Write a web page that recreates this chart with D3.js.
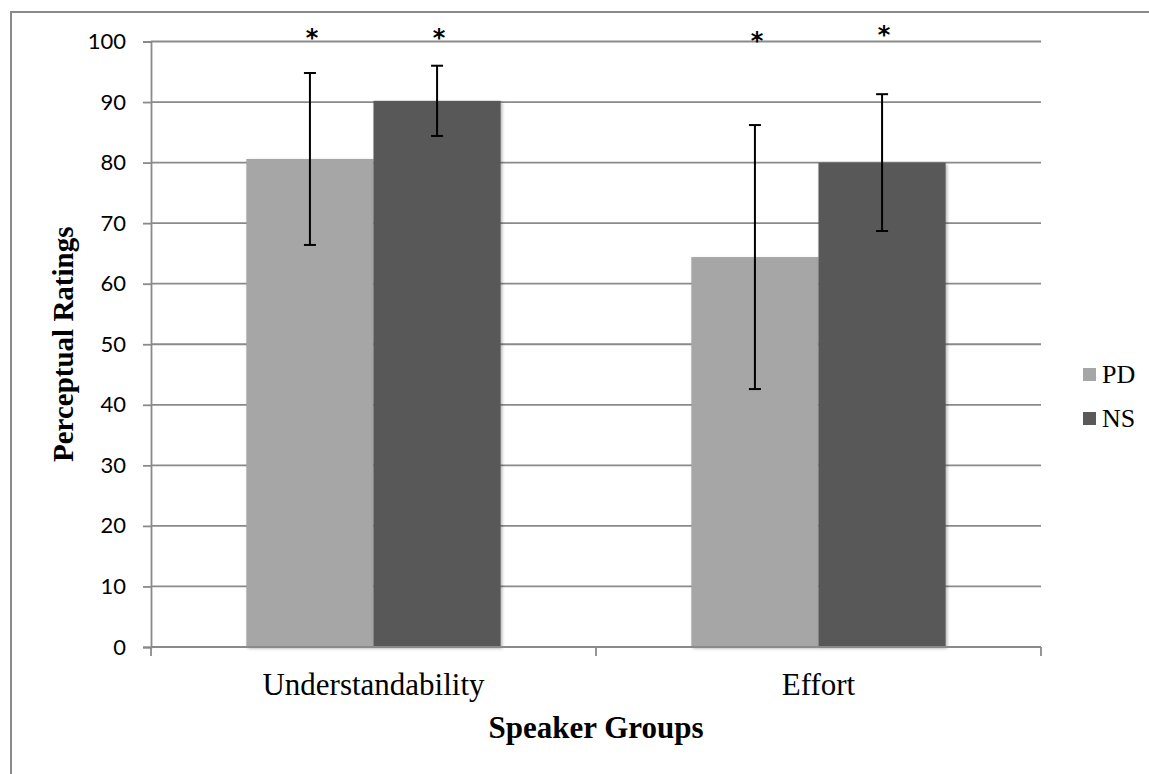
<!DOCTYPE html>
<html>
<head>
<meta charset="utf-8">
<script src="https://cdn.jsdelivr.net/npm/d3@7"></script>
<style>
  html, body { margin: 0; padding: 0; background: #fff; }
  svg { display: block; }
</style>
</head>
<body>
<div id="chart"></div>
<script>
// Perceptual ratings by speaker group (PD vs NS), mean ± SD
const categories = ['Understandability', 'Effort'];
const seriesNames = ['PD', 'NS'];
const pdMeans = [80.6, 64.4];
const nsMeans = [90.2, 80.0];
const pdErr = [14.2, 21.8];
const nsErr = [5.8, 11.3];
// significance markers, placed at these rating heights
const pdStarY = [101.6, 101.1];
const nsStarY = [101.6, 102.0];
const yTicks = [0, 10, 20, 30, 40, 50, 60, 70, 80, 90, 100];

const COLORS = { PD: '#a6a6a6', NS: '#595959' };
const GRID = '#8a8a8a';

const W = 1149, H = 774;
const M = { left: 151, right: 1041, top: 41.5, bottom: 647 };

const rows = [];
categories.forEach((c, i) => {
  rows.push({ cat: c, series: 'PD', value: pdMeans[i], err: pdErr[i], star: pdStarY[i] });
  rows.push({ cat: c, series: 'NS', value: nsMeans[i], err: nsErr[i], star: nsStarY[i] });
});

const svg = d3.select('#chart').append('svg').attr('width', W).attr('height', H);

// bar shadow
const defs = svg.append('defs');
defs.append('filter').attr('id', 'shadow')
  .attr('x', '-10%').attr('y', '-10%').attr('width', '130%').attr('height', '130%')
  .append('feDropShadow')
  .attr('dx', 1.5).attr('dy', 1.5).attr('stdDeviation', 1.8)
  .attr('flood-color', '#000').attr('flood-opacity', 0.3);

// outer chart frame (runs off the right / bottom edge)
svg.append('rect')
  .attr('x', 11).attr('y', 12).attr('width', W + 20).attr('height', H + 20)
  .attr('fill', 'none').attr('stroke', GRID).attr('stroke-width', 2);

const x0 = d3.scaleBand().domain(categories).range([M.left, M.right]).padding(0);
const x1 = d3.scaleBand().domain(seriesNames).range([0, x0.bandwidth()])
  .paddingInner(0).paddingOuter(0.75);
const y = d3.scaleLinear().domain([0, 100]).range([M.bottom, M.top]);

// gridlines
svg.append('g')
  .selectAll('line')
  .data(yTicks.filter(t => t > 0))
  .join('line')
  .attr('x1', M.left).attr('x2', M.right)
  .attr('y1', d => y(d)).attr('y2', d => y(d))
  .attr('stroke', GRID).attr('stroke-width', 1.8);

// bars
const groups = svg.append('g')
  .selectAll('g')
  .data(rows)
  .join('g')
  .attr('transform', d => `translate(${x0(d.cat)},0)`);

groups.append('rect')
  .attr('x', d => x1(d.series))
  .attr('y', d => y(d.value))
  .attr('width', x1.bandwidth())
  .attr('height', d => y(0) - y(d.value))
  .attr('fill', d => COLORS[d.series])
  .attr('filter', 'url(#shadow)');

// error bars
const cx = d => x1(d.series) + x1.bandwidth() / 2;
const CAP = 6;
groups.append('line')
  .attr('x1', cx).attr('x2', cx)
  .attr('y1', d => y(d.value + d.err)).attr('y2', d => y(d.value - d.err))
  .attr('stroke', '#000').attr('stroke-width', 2);
groups.append('line')
  .attr('x1', d => cx(d) - CAP).attr('x2', d => cx(d) + CAP)
  .attr('y1', d => y(d.value + d.err)).attr('y2', d => y(d.value + d.err))
  .attr('stroke', '#000').attr('stroke-width', 2);
groups.append('line')
  .attr('x1', d => cx(d) - CAP).attr('x2', d => cx(d) + CAP)
  .attr('y1', d => y(d.value - d.err)).attr('y2', d => y(d.value - d.err))
  .attr('stroke', '#000').attr('stroke-width', 2);

// asterisks
groups.append('text')
  .attr('x', d => cx(d) + 2)
  .attr('y', d => y(d.star) + 14)
  .attr('text-anchor', 'middle')
  .style('font-family', '"DejaVu Sans", sans-serif')
  .style('font-size', '24px')
  .style('font-weight', 'bold')
  .attr('fill', '#000')
  .text('*');

// y axis
const yAxis = svg.append('g')
  .attr('transform', `translate(${M.left},0)`)
  .call(d3.axisLeft(y).tickValues(yTicks).tickSize(8).tickPadding(17));
yAxis.select('.domain').attr('stroke', GRID).attr('stroke-width', 1.8);
yAxis.selectAll('.tick line').attr('stroke', GRID).attr('stroke-width', 1.8);
yAxis.selectAll('.tick text')
  .style('font-family', 'Lato, "Open Sans", sans-serif')
  .style('font-size', '22px').attr('fill', '#000');

// x axis
const xAxisG = svg.append('g').attr('transform', `translate(0,${M.bottom})`);
xAxisG.append('line')
  .attr('x1', M.left).attr('x2', M.right).attr('y1', 0).attr('y2', 0)
  .attr('stroke', GRID).attr('stroke-width', 1.8);
const bounds = [M.left, ...categories.slice(1).map(c => x0(c)), M.right];
xAxisG.selectAll('.xtick')
  .data(bounds)
  .join('line')
  .attr('class', 'xtick')
  .attr('x1', d => d).attr('x2', d => d)
  .attr('y1', 0).attr('y2', 9)
  .attr('stroke', GRID).attr('stroke-width', 1.8);
xAxisG.selectAll('.xlab')
  .data(categories)
  .join('text')
  .attr('class', 'xlab')
  .attr('x', d => x0(d) + x0.bandwidth() / 2)
  .attr('y', 48)
  .attr('text-anchor', 'middle')
  .style('font-family', '"Liberation Serif", "Times New Roman", serif')
  .style('font-size', '31px')
  .attr('fill', '#000')
  .text(d => d);

// axis titles
svg.append('text')
  .attr('x', (M.left + M.right) / 2)
  .attr('y', 738)
  .attr('text-anchor', 'middle')
  .style('font-family', '"Liberation Serif", "Times New Roman", serif')
  .style('font-size', '31px').style('font-weight', 'bold')
  .text('Speaker Groups');

svg.append('text')
  .attr('transform', `translate(73,${(M.top + M.bottom) / 2}) rotate(-90)`)
  .attr('text-anchor', 'middle')
  .style('font-family', '"Liberation Serif", "Times New Roman", serif')
  .style('font-size', '29px').style('font-weight', 'bold')
  .text('Perceptual Ratings');

// legend
const legend = svg.append('g').attr('transform', 'translate(1083,368)');
const li = legend.selectAll('g')
  .data(seriesNames)
  .join('g')
  .attr('transform', (d, i) => `translate(0,${i * 44})`);
li.append('rect')
  .attr('width', 13).attr('height', 13)
  .attr('fill', d => COLORS[d]);
li.append('text')
  .attr('x', 19).attr('y', 15)
  .style('font-family', '"Liberation Serif", "Times New Roman", serif')
  .style('font-size', '26px')
  .text(d => d);
</script>
</body>
</html>
